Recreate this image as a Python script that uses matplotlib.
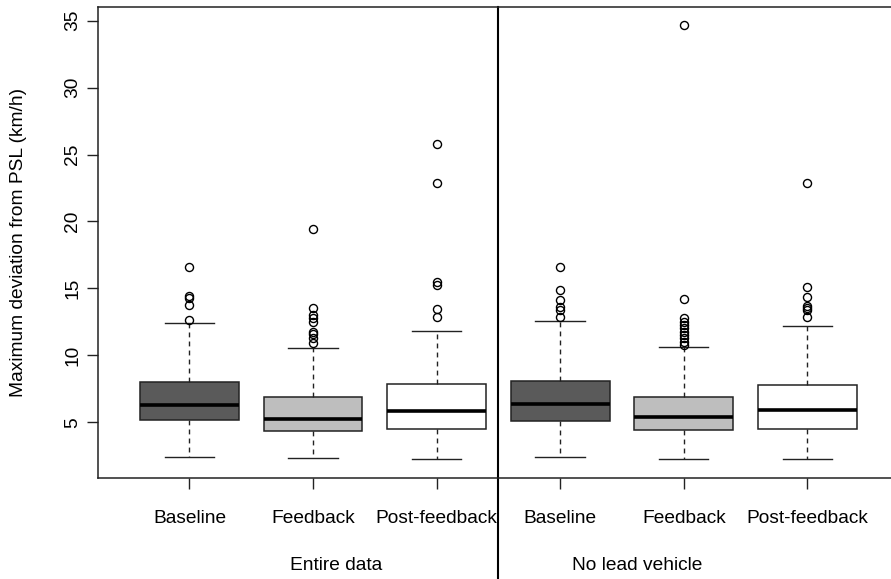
import matplotlib
matplotlib.use("Agg")
import matplotlib.pyplot as plt
import matplotlib.transforms as mtransforms

plt.rcParams['font.family'] = ['Liberation Sans', 'DejaVu Sans']

# ---- data ----
conditions = ["Baseline", "Feedback", "Post-feedback",
              "Baseline", "Feedback", "Post-feedback"]
groups = ["Entire data", "No lead vehicle"]
medians = [6.27, 5.27, 5.84, 6.39, 5.37, 5.90]
q1 = [5.17, 4.35, 4.52, 5.10, 4.42, 4.52]
q3 = [8.03, 6.91, 7.86, 8.11, 6.91, 7.76]
whis_lo = [2.41, 2.31, 2.24, 2.43, 2.24, 2.24]
whis_hi = [12.40, 10.53, 11.82, 12.57, 10.65, 12.19]
fliers = [
    [12.64, 13.76, 14.26, 14.46, 16.63],
    [10.95, 11.27, 11.57, 11.77, 12.47, 12.77, 13.01, 13.56, 19.41],
    [12.84, 13.46, 15.26, 15.50, 22.90, 25.77],
    [12.89, 13.39, 13.64, 14.14, 14.88, 16.62],
    [10.77, 11.02, 11.27, 11.52, 11.77, 12.02, 12.27, 12.51, 12.77, 14.21, 34.68],
    [12.84, 13.39, 13.52, 13.69, 14.38, 15.13, 22.90],
]
fill_colors = ["#5a5a5a", "#bebebe", "#ffffff", "#5a5a5a", "#bebebe", "#ffffff"]
yticks = [5, 10, 15, 20, 25, 30, 35]

W, H = 891, 579
FS = 13.8
fig = plt.figure(figsize=(W / 100, H / 100), dpi=100)
left, right, top, bottom = 98, 898.8, 7, 478
ax = fig.add_axes([left / W, 1 - bottom / H, (right - left) / W, (bottom - top) / H])

positions = list(range(1, len(conditions) + 1))
stats = []
for i in range(len(conditions)):
    stats.append(dict(med=medians[i], q1=q1[i], q3=q3[i],
                      whislo=whis_lo[i], whishi=whis_hi[i],
                      fliers=fliers[i], label=conditions[i]))

bp = ax.bxp(stats, positions=positions, widths=0.8, patch_artist=True,
            showfliers=True,
            boxprops=dict(edgecolor="#222222", linewidth=1.1),
            medianprops=dict(color="black", linewidth=2.6, solid_capstyle="butt"),
            whiskerprops=dict(color="#222222", linewidth=1.0, linestyle=(0, (3.5, 3))),
            capprops=dict(color="#222222", linewidth=1.0),
            capwidths=0.4,
            flierprops=dict(marker="o", markerfacecolor="none",
                            markeredgecolor="black", markersize=5.8, markeredgewidth=1.0))
for patch, c in zip(bp["boxes"], fill_colors):
    patch.set_facecolor(c)

ax.set_xlim(0.26, 6.74)
ax.set_ylim(0.84, 36.02)

ax.set_xticks(positions)
ax.set_xticklabels(conditions, fontsize=FS)
ax.set_yticks(yticks)
ax.set_yticklabels([str(v) for v in yticks], fontsize=FS, rotation=90, va="center")
ax.tick_params(axis="x", length=8, width=1.0, pad=15, colors="#222222", labelcolor="black")
ax.tick_params(axis="y", length=8, width=1.0, pad=4, colors="#222222", labelcolor="black")

for s in ["left", "bottom", "top", "right"]:
    ax.spines[s].set_linewidth(1.1)
    ax.spines[s].set_color("#222222")

# divider line extending below the axis
trans = mtransforms.blended_transform_factory(ax.transData, ax.transAxes)
ax.plot([3.5, 3.5], [-(H - bottom) / (bottom - top), 1.0], color="black",
        linewidth=1.5, transform=trans, clip_on=False)

# group labels
ylab = -(565 - bottom) / (bottom - top)
ax.text(2.19, ylab, groups[0], transform=trans, ha="center", va="center", fontsize=FS)
ax.text(4.62, ylab, groups[1], transform=trans, ha="center", va="center", fontsize=FS)

fig.text(19 / W, 1 - 242.5 / H, "Maximum deviation from PSL (km/h)", rotation=90,
         ha="center", va="center", fontsize=FS)

fig.savefig("out.png", dpi=100)
